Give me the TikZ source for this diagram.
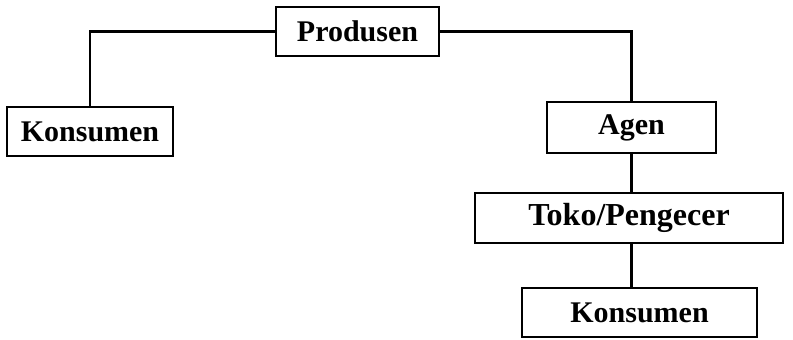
\documentclass[tikz,border=0pt]{standalone}
\usepackage{fontspec}
\setmainfont{Liberation Serif}
\begin{document}
\begin{tikzpicture}[x=1pt,y=-1pt,
  box/.style={draw=black,line width=2.4pt,rectangle,inner sep=0pt,font=\fontsize{30}{30}\selectfont\bfseries},
  conn/.style={draw=black,line width=2.4pt}]
\useasboundingbox (0,0) rectangle (793,340);
\node[box,minimum width=163pt,minimum height=49pt] (prod) at (357.5,31.5) {Produsen};
\node[box,minimum width=166pt,minimum height=49pt] (kons1) at (90,131.5) {Konsumen};
\node[box,minimum width=169pt,minimum height=51pt] (agen) at (631.5,127.5) {Agen};
\node[box,minimum width=308pt,minimum height=50pt,font=\fontsize{32}{32}\selectfont\bfseries] (toko) at (629,218) {Toko/Pengecer};
\node[box,minimum width=235pt,minimum height=49pt] (kons2) at (639.5,312.5) {Konsumen};
\draw[conn] (prod.west) -| (kons1.north);
\draw[conn] (prod.east) -| (agen.north);
\draw[conn] (agen.south) -- (agen.south |- toko.north);
\draw[conn] (toko.south -| agen.south) -- (agen.south |- kons2.north);
\end{tikzpicture}
\end{document}
